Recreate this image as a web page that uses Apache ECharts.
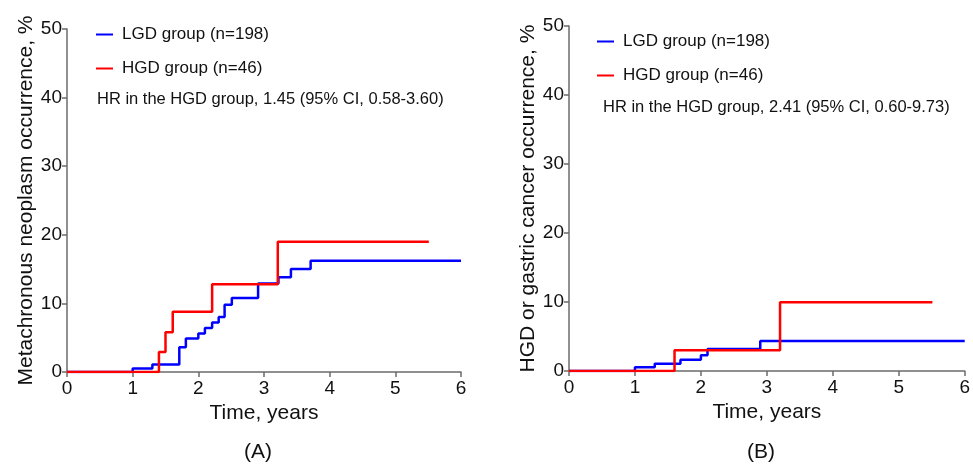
<!DOCTYPE html>
<html>
<head>
<meta charset="utf-8">
<script src="https://cdn.jsdelivr.net/npm/echarts@6/dist/echarts.min.js"></script>
<style>
html,body{margin:0;padding:0;background:#fff;}
#c{width:973px;height:467px;}
</style>
</head>
<body>
<div id="c"></div>
<script>
// ---- data ----
const xTicks = [0, 1, 2, 3, 4, 5, 6];
const yTicks = [0, 10, 20, 30, 40, 50];
const seriesNames = ['LGD group (n=198)', 'HGD group (n=46)'];
const hrTextA = 'HR in the HGD group, 1.45 (95% CI, 0.58-3.60)';
const hrTextB = 'HR in the HGD group, 2.41 (95% CI, 0.60-9.73)';
const yNameA = 'Metachronous neoplasm occurrence, %';
const yNameB = 'HGD or gastric cancer occurrence, %';
const xName = 'Time, years';
const panelLabels = ['(A)', '(B)'];

// Panel A: [time (years), cumulative occurrence %]
const lgdA = [[0,0],[1.0,0.5],[1.3,1.1],[1.71,3.6],[1.81,4.9],[2.0,5.6],[2.1,6.4],[2.21,7.2],[2.31,8.0],[2.4,9.8],[2.51,10.8],[2.91,12.9],[3.22,13.8],[3.41,15.0],[3.71,16.2],[6.0,16.2]];
const hgdA = [[0,0],[1.4,2.9],[1.5,5.8],[1.61,8.8],[2.21,12.8],[3.21,19.0],[5.51,19.0]];
// Panel B
const lgdB = [[0,0],[1.0,0.53],[1.3,1.06],[1.69,1.64],[2.0,2.3],[2.1,3.2],[2.9,4.35],[6.0,4.35]];
const hgdB = [[0,0],[1.6,3.0],[3.2,9.95],[5.51,9.95]];

const BLUE = '#0000ff', RED = '#ff0000';
const FONT = 'Liberation Sans, Arial, sans-serif';
const axisColor = '#6b6b6b';

function xAxis(gi){
  return {
    gridIndex: gi, type: 'value', min: xTicks[0], max: xTicks[xTicks.length-1], interval: 1,
    name: xName, nameLocation: 'middle', nameGap: 28,
    nameTextStyle: {fontSize: 21, color: '#111', fontFamily: FONT},
    axisLine: {show: true, onZero: false, lineStyle: {color: axisColor, width: 1.5}},
    axisTick: {show: true, length: 5, lineStyle: {color: axisColor, width: 1.5}},
    axisLabel: {fontSize: 19, color: '#111', fontFamily: FONT, margin: 7},
    splitLine: {show: false}
  };
}
function yAxis(gi, name){
  return {
    gridIndex: gi, type: 'value', min: yTicks[0], max: yTicks[yTicks.length-1], interval: 10,
    name: name, nameLocation: 'middle', nameGap: 30,
    nameTextStyle: {fontSize: 21, color: '#111', fontFamily: FONT},
    axisLine: {show: true, lineStyle: {color: axisColor, width: 1.5}},
    axisTick: {show: true, length: 5, lineStyle: {color: axisColor, width: 1.5}},
    axisLabel: {fontSize: 19, color: '#111', fontFamily: FONT, margin: 5},
    splitLine: {show: false}
  };
}
function km(name, data, color, gi, z){
  return {
    name: name, type: 'line', step: 'end', data: data,
    xAxisIndex: gi, yAxisIndex: gi, showSymbol: false, symbol: 'none',
    lineStyle: {color: color, width: 2.5}, itemStyle: {color: color},
    animation: false, z: z
  };
}
function legend(left, top){
  return {
    left: left, top: top, orient: 'vertical', itemGap: 17, padding: 0,
    icon: 'rect', itemWidth: 17, itemHeight: 2,
    data: seriesNames,
    textStyle: {fontSize: 17, color: '#111', fontFamily: FONT, padding: [0,0,0,4]},
    selectedMode: false
  };
}
function textTitle(txt, left, top, size, align){
  return {text: txt, left: left, top: top, padding: 0, textAlign: align,
    textStyle: {fontSize: size, fontWeight: 'normal', color: '#111', fontFamily: FONT}};
}

const chart = echarts.init(document.getElementById('c'), null, {renderer: 'canvas'});
chart.setOption({
  animation: false,
  backgroundColor: '#fff',
  grid: [
    {left: 67, top: 29, width: 394, height: 343},
    {left: 569, top: 26, width: 396, height: 345}
  ],
  xAxis: [xAxis(0), xAxis(1)],
  yAxis: [yAxis(0, yNameA), yAxis(1, yNameB)],
  legend: [legend(96, 26), legend(597, 33)],
  title: [
    textTitle(hrTextA, 97, 91, 16.5, 'left'),
    textTitle(hrTextB, 603, 99, 16.5, 'left'),
    textTitle(panelLabels[0], 258, 442, 21, 'center'),
    textTitle(panelLabels[1], 761, 442, 21, 'center')
  ],
  series: [
    km(seriesNames[0], lgdA, BLUE, 0, 2),
    km(seriesNames[1], hgdA, RED, 0, 3),
    km(seriesNames[0], lgdB, BLUE, 1, 2),
    km(seriesNames[1], hgdB, RED, 1, 3)
  ]
});
</script>
</body>
</html>
